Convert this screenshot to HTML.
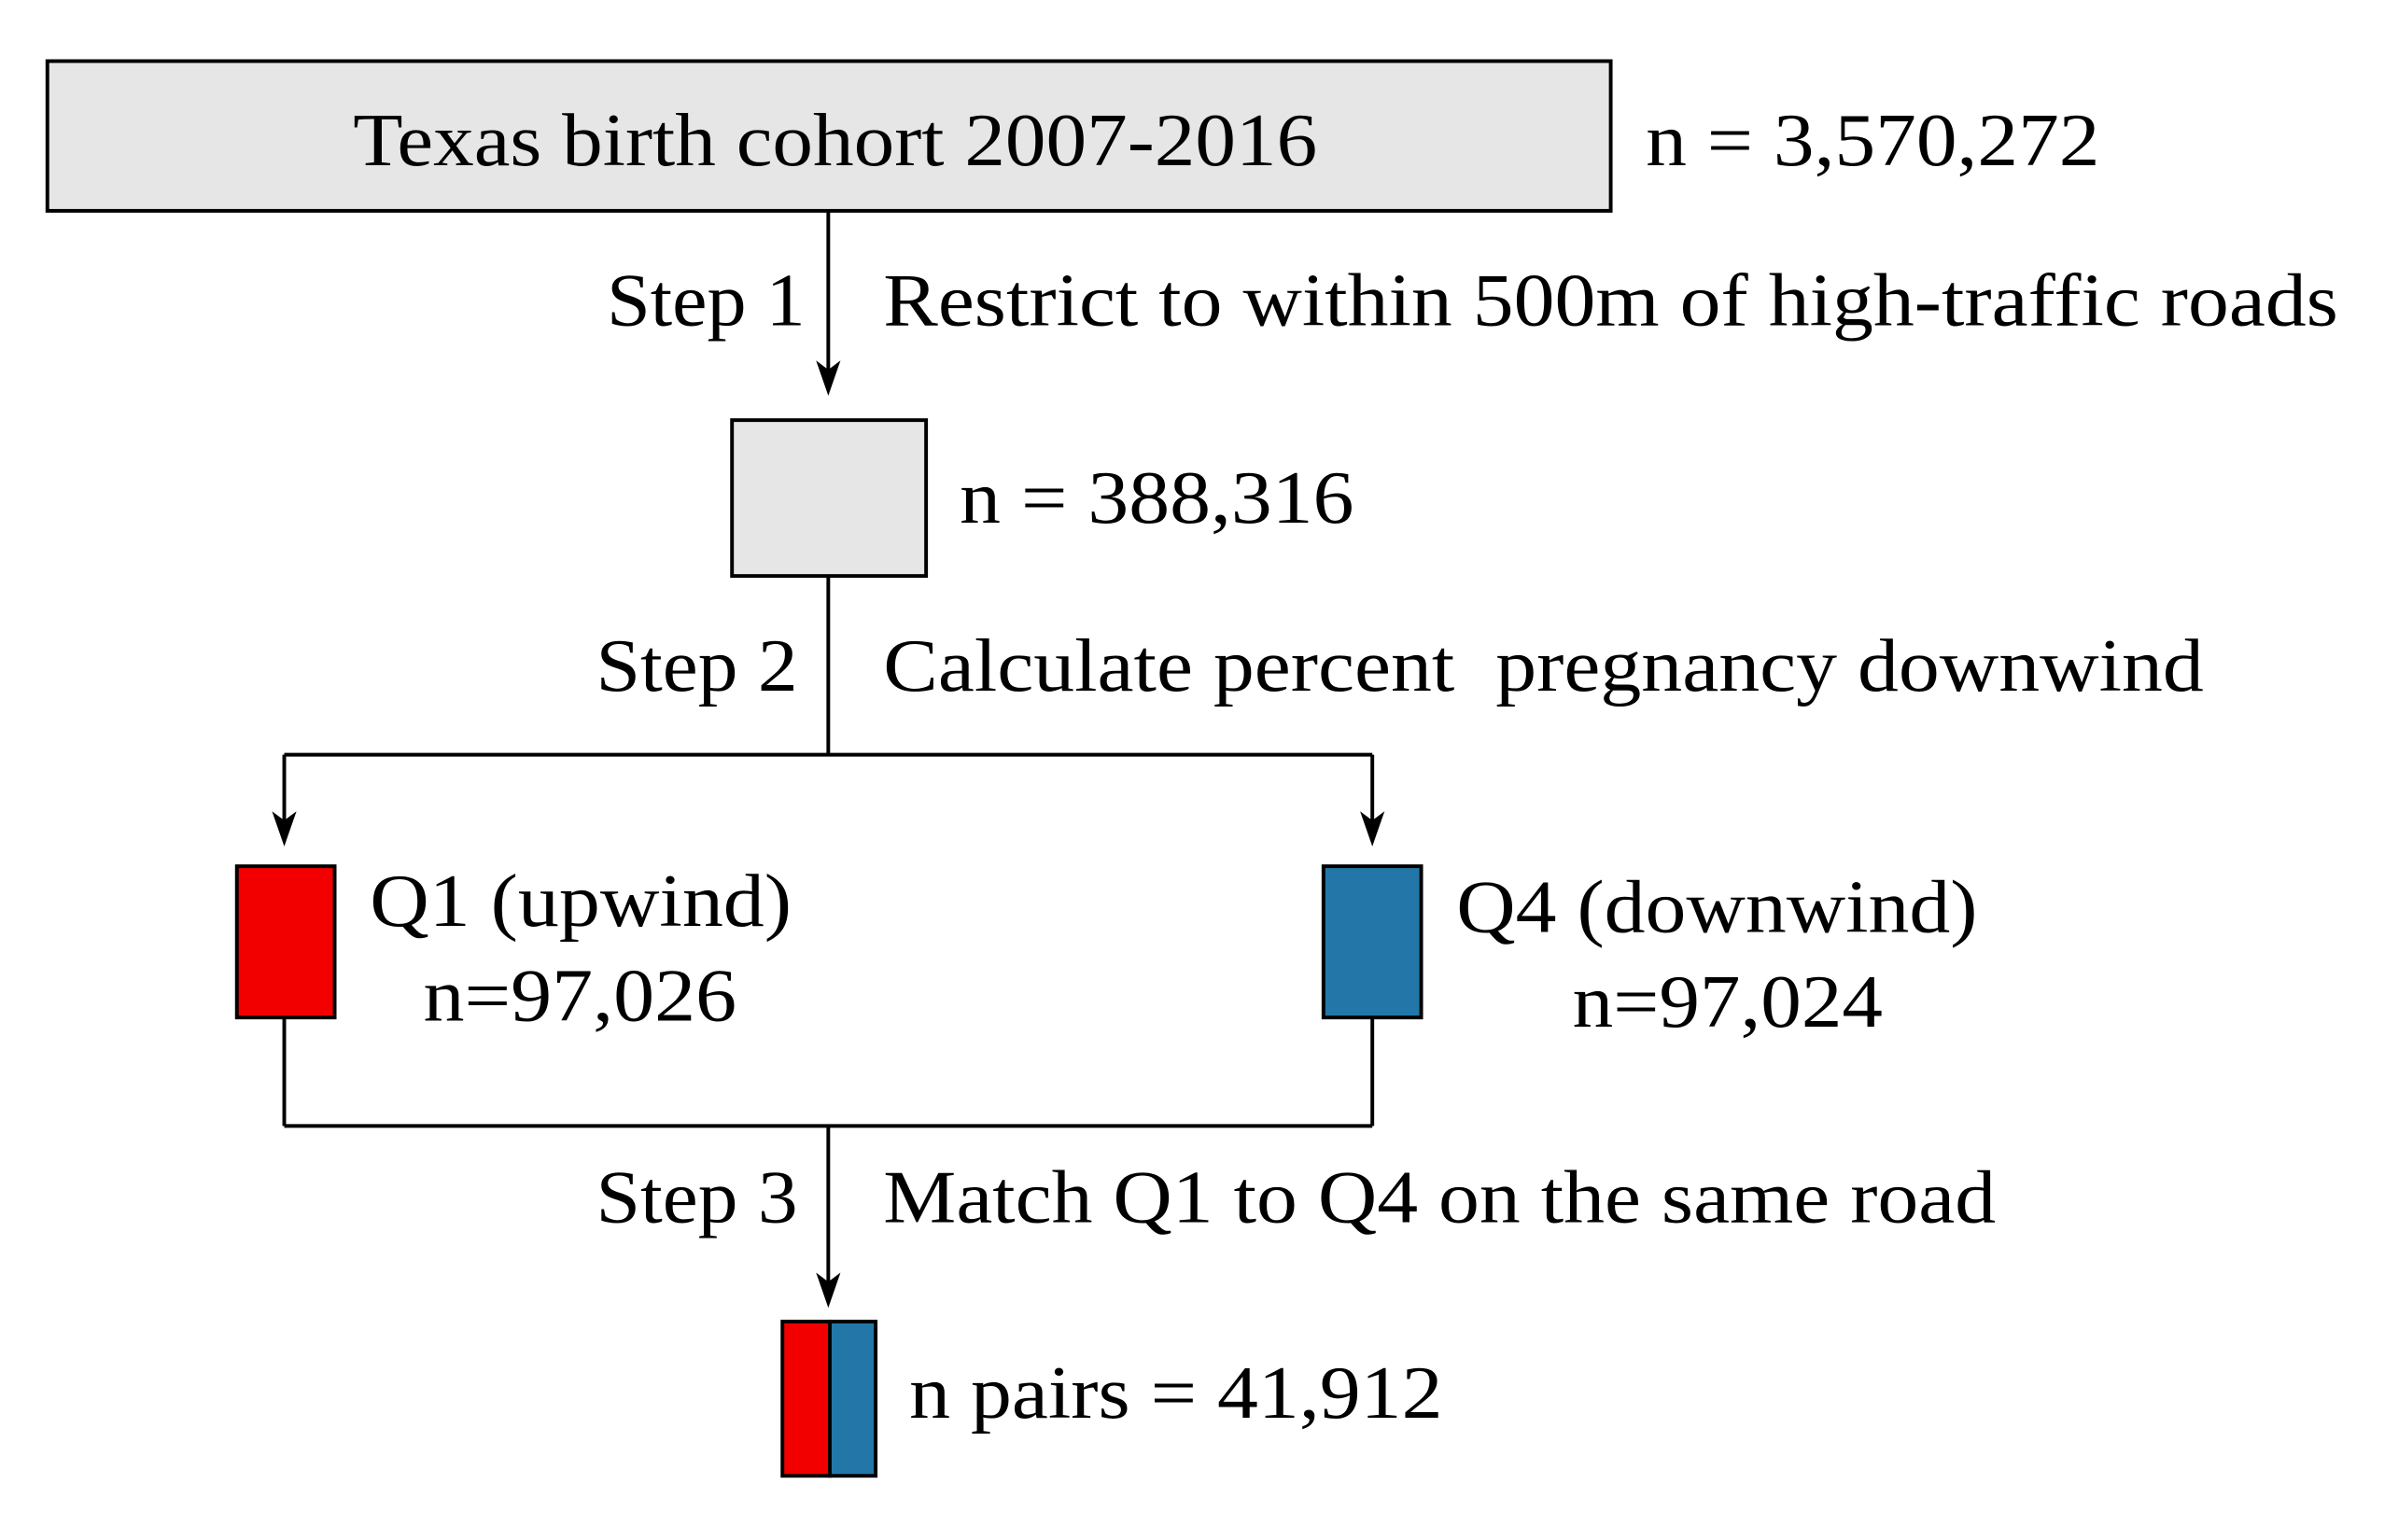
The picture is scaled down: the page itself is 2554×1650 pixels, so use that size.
<!DOCTYPE html>
<html><head><meta charset="utf-8"><style>
html,body{margin:0;padding:0;background:#fff;}
svg{display:block;}
text{font-family:"Liberation Serif",serif;font-size:49px;fill:#000;white-space:pre;}
</style></head><body>
<svg width="2554" height="1650" viewBox="0 0 1560 1008" preserveAspectRatio="none">
<g stroke="#000" stroke-width="2.4" fill="none">
<rect x="31" y="40" width="1023" height="98" fill="#e6e6e6"/>
<line x1="542" y1="138" x2="542" y2="250"/>
<rect x="479" y="275" width="127" height="102" fill="#e6e6e6"/>
<line x1="542" y1="377" x2="542" y2="494"/>
<line x1="186" y1="494" x2="898" y2="494"/>
<line x1="186" y1="494" x2="186" y2="545"/>
<line x1="898" y1="494" x2="898" y2="545"/>
<rect x="155" y="567" width="64" height="99" fill="#f20000"/>
<rect x="866" y="567" width="64" height="99" fill="#2277a8"/>
<line x1="186" y1="666" x2="186" y2="737"/>
<line x1="898" y1="666" x2="898" y2="737"/>
<line x1="186" y1="737" x2="898" y2="737"/>
<line x1="542" y1="737" x2="542" y2="847"/>
<rect x="512" y="865" width="31" height="101" fill="#f20000"/>
<rect x="543" y="865" width="30" height="101" fill="#2277a8"/>
</g>
<g fill="#000">
<path d="M534,236 L542,259 L550,236 L542,242 Z"/>
<path d="M178,531 L186,554 L194,531 L186,537 Z"/>
<path d="M890,531 L898,554 L906,531 L898,537 Z"/>
<path d="M534,833 L542,856 L550,833 L542,839 Z"/>
</g>
<text x="231" y="108" textLength="631" lengthAdjust="spacingAndGlyphs">Texas birth cohort 2007-2016</text>
<text x="1077" y="108" textLength="297" lengthAdjust="spacingAndGlyphs">n = 3,570,272</text>
<text x="397" y="213" textLength="130" lengthAdjust="spacingAndGlyphs">Step 1</text>
<text x="578" y="213" textLength="952" lengthAdjust="spacingAndGlyphs">Restrict to within 500m of high-traffic roads</text>
<text x="628" y="342" textLength="258" lengthAdjust="spacingAndGlyphs">n = 388,316</text>
<text x="390" y="452" textLength="132" lengthAdjust="spacingAndGlyphs">Step 2</text>
<text x="578" y="452" textLength="864" lengthAdjust="spacingAndGlyphs">Calculate percent  pregnancy downwind</text>
<text x="242" y="606" textLength="276" lengthAdjust="spacingAndGlyphs">Q1 (upwind)</text>
<text x="277" y="668" textLength="205" lengthAdjust="spacingAndGlyphs">n=97,026</text>
<text x="953" y="610" textLength="341" lengthAdjust="spacingAndGlyphs">Q4 (downwind)</text>
<text x="1029" y="672" textLength="203" lengthAdjust="spacingAndGlyphs">n=97,024</text>
<text x="390" y="800" textLength="132" lengthAdjust="spacingAndGlyphs">Step 3</text>
<text x="578" y="800" textLength="728" lengthAdjust="spacingAndGlyphs">Match Q1 to Q4 on the same road</text>
<text x="595" y="928" textLength="349" lengthAdjust="spacingAndGlyphs">n pairs = 41,912</text>
</svg>
</body></html>
